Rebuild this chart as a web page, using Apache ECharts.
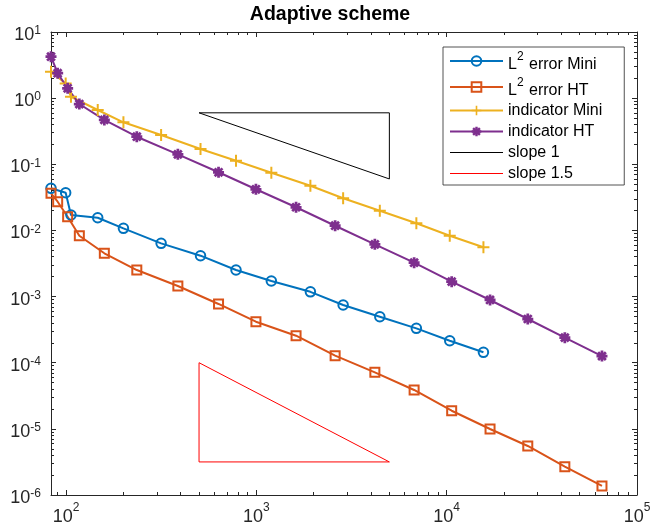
<!DOCTYPE html>
<html>
<head>
<meta charset="utf-8">
<script src="https://cdn.jsdelivr.net/npm/echarts@6/dist/echarts.min.js"></script>
<style>
html, body { margin: 0; padding: 0; background: #fff; }
#chart { width: 653px; height: 526px; }
</style>
</head>
<body>
<div id="chart"></div>
<script>
// axis limits (log-log)
var xMin = 83.4, xMax = 1e5;
var yMin = 1e-6, yMax = 10;

// Mini element: error and indicator share the same dofs
var xMini = [83.4, 99.6, 106.2, 146.8, 200.3, 316, 509, 782, 1199, 1923, 2858, 4454, 6930, 10380, 15600];
var errMini = [0.0433, 0.0372, 0.0171, 0.01556, 0.01076, 0.00638, 0.00415, 0.00252, 0.00172, 0.00118, 0.000745, 0.000496, 0.000331, 0.000215, 0.0001436];
var indMini = [2.51, 1.67, 1.05, 0.662, 0.431, 0.277, 0.170, 0.113, 0.0746, 0.0474, 0.0306, 0.01987, 0.01282, 0.00832, 0.00556];

// HT element
var xHT = [83.4, 90.4, 102, 117.5, 159, 235.5, 387, 633, 995, 1617, 2594, 4195, 6745, 10625, 16900, 26680, 41770, 65460];
var errHT = [0.0364, 0.0272, 0.0161, 0.00832, 0.00451, 0.00252, 0.001445, 0.000773, 0.000417, 0.000256, 0.0001277, 0.0000716, 0.0000387, 0.0000188, 0.00000996, 0.00000551, 0.00000268, 0.00000137];
var indHT = [4.23, 2.38, 1.41, 0.815, 0.468, 0.261, 0.1415, 0.0757, 0.0419, 0.0224, 0.01178, 0.00617, 0.00325, 0.00168, 0.000888, 0.000458, 0.000239, 0.000126];

// reference triangles
var slope1X = [500, 5000, 5000, 500];
var slope1Y = [0.6, 0.6, 0.06, 0.6];
var slope15X = [500, 5000, 500, 500];
var slope15Y = [1e-4, 3.162e-6, 3.162e-6, 1e-4];

// tick exponents
var xMajor = [2, 3, 4, 5];
var yMajor = [-6, -5, -4, -3, -2, -1, 0, 1];

var blue = '#0072BD', orange = '#D95319', yellow = '#EDB120', purple = '#7E2F8E';
var axisColor = '#262626';
var font = 'Liberation Sans, Arial, Helvetica, sans-serif';

var plusPath = 'path://M-1,-6L1,-6L1,-1L6,-1L6,1L1,1L1,6L-1,6L-1,1L-6,1L-6,-1L-1,-1Z';
var starPath = 'path://M-6,-1.5L6,-1.5L6,1.5L-6,1.5Z M-1.5,-6L1.5,-6L1.5,6L-1.5,6Z ' +
    'M-3.182,-5.303L5.303,3.182L3.182,5.303L-5.303,-3.182Z ' +
    'M-5.303,3.182L3.182,-5.303L5.303,-3.182L-3.182,5.303Z';

function lg(v) { return Math.log10(v); }
function pts(xs, ys) {
    return xs.map(function (x, i) { return [lg(x), lg(ys[i])]; });
}
function minorTicks(lo, hi) {
    var out = [];
    for (var n = lo; n <= hi; n++) {
        for (var k = 2; k <= 9; k++) out.push(lg(k * Math.pow(10, n)));
    }
    return out;
}
var xMinor = minorTicks(1, 4);
var yMinor = minorTicks(-6, 0);

function expLabel(v) {
    return '{b|10}{s|' + Math.round(v) + '}';
}

var baseRich = { fontSize: 18, height: 18, lineHeight: 24, padding: [6, 0, 0, 0], color: axisColor, fontFamily: font };
var xRich = { b: baseRich, s: { fontSize: 12, height: 12, lineHeight: 24, padding: [0, 0, 12, 0], color: axisColor, fontFamily: font } };
var yRich = { b: baseRich, s: { fontSize: 12, height: 12, lineHeight: 24, padding: [5, 0, 7, 0], color: axisColor, fontFamily: font } };

function makeAxis(grid, pos, min, max, ticks, len, label) {
    var ax = {
        type: 'value', gridIndex: grid, position: pos, min: min, max: max,
        axisLine: { show: len === 5, onZero: false, lineStyle: { color: axisColor, width: 1 } },
        axisTick: { show: true, inside: true, length: len, customValues: ticks, lineStyle: { color: axisColor, width: 1 } },
        axisLabel: { show: false },
        splitLine: { show: false }
    };
    if (label) ax.axisLabel = label;
    return ax;
}

var xAxes = [
    makeAxis(0, 'bottom', lg(xMin), lg(xMax), xMajor, 5, {
        show: true, customValues: xMajor, margin: 7, formatter: expLabel, rich: xRich
    }),
    makeAxis(0, 'top', lg(xMin), lg(xMax), xMajor, 5),
    makeAxis(1, 'bottom', lg(xMin), lg(xMax), xMinor, 3),
    makeAxis(1, 'top', lg(xMin), lg(xMax), xMinor, 3)
];
var yAxes = [
    makeAxis(0, 'left', lg(yMin), lg(yMax), yMajor, 5, {
        show: true, customValues: yMajor, margin: 10, formatter: expLabel, rich: yRich
    }),
    makeAxis(0, 'right', lg(yMin), lg(yMax), yMajor, 5),
    makeAxis(1, 'left', lg(yMin), lg(yMax), yMinor, 3),
    makeAxis(1, 'right', lg(yMin), lg(yMax), yMinor, 3)
];

function dataSeries(name, xs, ys, color, symbol, size, open) {
    return {
        name: name, type: 'line', xAxisIndex: 0, yAxisIndex: 0,
        data: pts(xs, ys), clip: false,
        symbol: symbol, symbolSize: size, showAllSymbol: true,
        lineStyle: { color: color, width: 2 },
        itemStyle: open ? { color: 'transparent', borderColor: color, borderWidth: 2 }
                        : { color: color, borderWidth: 0 },
        emphasis: { disabled: true }
    };
}
function slopeSeries(name, xs, ys, color) {
    return {
        name: name, type: 'line', xAxisIndex: 0, yAxisIndex: 0,
        data: pts(xs, ys), clip: false, symbol: 'circle', symbolSize: 0, showSymbol: false,
        lineStyle: { color: color, width: 1 },
        itemStyle: { color: 'transparent', borderWidth: 0 },
        emphasis: { disabled: true }
    };
}

var chart = echarts.init(document.getElementById('chart'), null, { renderer: 'canvas' });
chart.setOption({
    animation: false,
    backgroundColor: '#fff',
    title: {
        text: 'Adaptive scheme', left: 330, top: 5, textAlign: 'center', padding: 0,
        textStyle: { fontSize: 19.5, fontWeight: 'bold', color: '#000', fontFamily: font }
    },
    grid: [
        { left: 51, right: 16, top: 32, bottom: 31, containLabel: false, outerBoundsMode: 'none' },
        { left: 51, right: 16, top: 32, bottom: 31, containLabel: false, outerBoundsMode: 'none' }
    ],
    xAxis: xAxes,
    yAxis: yAxes,
    legend: {
        orient: 'vertical', left: 443, top: 47,
        padding: [2, 22, 2, 6], itemGap: 2,
        itemWidth: 53, itemHeight: 12,
        borderColor: axisColor, borderWidth: 0.8, backgroundColor: '#fff',
        selectedMode: false,
        lineStyle: { width: 'inherit' },
        textStyle: {
            fontSize: 16, lineHeight: 19, color: '#000', fontFamily: font,
            rich: {
                b: { fontSize: 16, height: 16, lineHeight: 24, padding: [8, 0, 0, 0], color: '#000', fontFamily: font },
                s: { fontSize: 12, height: 12, lineHeight: 24, padding: [2, 1, 10, 0], color: '#000', fontFamily: font }
            }
        },
        formatter: function (name) {
            if (name.indexOf('L2 ') === 0) return '{b|L}{s|2}{b| ' + name.slice(3) + '}';
            return name;
        },
        data: ['L2 error Mini', 'L2 error HT', 'indicator Mini', 'indicator HT', 'slope 1', 'slope 1.5']
    },
    series: [
        dataSeries('L2 error Mini', xMini, errMini, blue, 'circle', 9.5, true),
        dataSeries('L2 error HT', xHT, errHT, orange, 'rect', 9, true),
        dataSeries('indicator Mini', xMini, indMini, yellow, plusPath, 12, false),
        dataSeries('indicator HT', xHT, indHT, purple, starPath, 11, false),
        slopeSeries('slope 1', slope1X, slope1Y, '#000'),
        slopeSeries('slope 1.5', slope15X, slope15Y, '#FF0000')
    ]
});
</script>
</body>
</html>
